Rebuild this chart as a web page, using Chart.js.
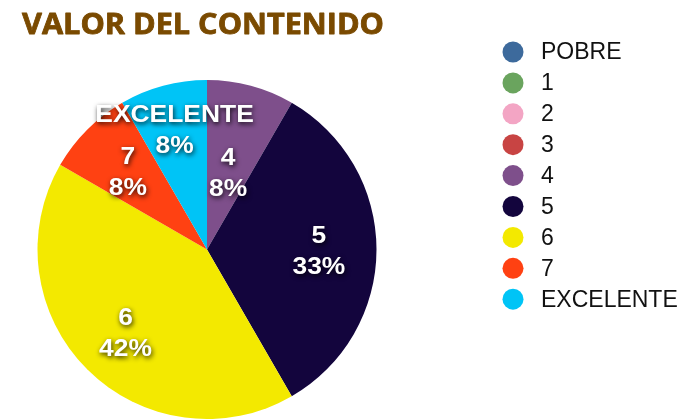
<!DOCTYPE html>
<html>
<head>
<meta charset="utf-8">
<script src="https://cdn.jsdelivr.net/npm/chart.js@4.4.1/dist/chart.umd.min.js"></script>
<style>
  html, body { margin: 0; padding: 0; background: #ffffff; overflow: hidden; }
  #wrap { position: relative; width: 692px; height: 419px; }
  canvas { display: block; }
</style>
</head>
<body>
<div id="wrap"><canvas id="c" width="692" height="419"></canvas></div>
<script>
// ---- data ----
const chartTitle = "VALOR DEL CONTENIDO";
const categories = ["POBRE", "1", "2", "3", "4", "5", "6", "7", "EXCELENTE"];
const counts = [0, 0, 0, 0, 1, 4, 5, 1, 1];
const sliceColors = ["#3D6A9C", "#6AA45E", "#F3A5C4", "#C84443", "#7E4F8B", "#13053D", "#F3E900", "#FF4112", "#00C4F6"];

// label radial placement factors (fraction of radius) per slice
const labelRadius = [0.6, 0.6, 0.6, 0.6, 0.48, 0.66, 0.68, 0.66, 0.74];

const titlePlugin = {
  id: 'titlePlugin',
  afterDraw(chart) {
    const ctx = chart.ctx;
    ctx.save();
    ctx.font = 'bold 28px "Open Sans"';
    ctx.fillStyle = '#7A4A00';
    ctx.strokeStyle = '#7A4A00';
    ctx.lineWidth = 0.8;
    ctx.lineJoin = 'round';
    ctx.textBaseline = 'alphabetic';
    ctx.textAlign = 'left';
    const w = ctx.measureText(chartTitle).width;
    const target = 362;
    ctx.translate(22, 34);
    ctx.scale(target / w, 1);
    ctx.fillText(chartTitle, 0, 0);
    ctx.strokeText(chartTitle, 0, 0);
    ctx.restore();
  }
};

const legendPlugin = {
  id: 'legendPlugin',
  afterDraw(chart) {
    const ctx = chart.ctx;
    ctx.save();
    const labels = chart.data.labels;
    const colors = chart.data.datasets[0].backgroundColor;
    ctx.font = '23px "Liberation Sans", Arial, sans-serif';
    ctx.textBaseline = 'middle';
    ctx.textAlign = 'left';
    for (let i = 0; i < labels.length; i++) {
      const y = 52 + i * 30.9;
      ctx.beginPath();
      ctx.arc(513, y, 10.5, 0, Math.PI * 2);
      ctx.fillStyle = colors[i];
      ctx.fill();
      ctx.fillStyle = '#111111';
      ctx.fillText(labels[i], 541, y + 1);
    }
    ctx.restore();
  }
};

const sliceLabelPlugin = {
  id: 'sliceLabelPlugin',
  afterDatasetsDraw(chart) {
    const ctx = chart.ctx;
    const meta = chart.getDatasetMeta(0);
    const data = chart.data.datasets[0].data;
    const total = data.reduce((a, b) => a + b, 0);
    ctx.save();
    ctx.font = 'bold 24px "Liberation Sans", Arial, sans-serif';
    ctx.textAlign = 'center';
    ctx.textBaseline = 'middle';
    ctx.fillStyle = '#ffffff';
    ctx.shadowColor = 'rgba(0,0,0,0.85)';
    ctx.shadowBlur = 5;
    ctx.shadowOffsetX = 1;
    ctx.shadowOffsetY = 2;
    meta.data.forEach((arc, i) => {
      if (!data[i]) return;
      const p = arc.getProps(['x', 'y', 'startAngle', 'endAngle', 'outerRadius'], true);
      const mid = (p.startAngle + p.endAngle) / 2;
      const r = p.outerRadius * labelRadius[i];
      const cx = p.x + Math.cos(mid) * r;
      const cy = p.y + Math.sin(mid) * r;
      const pct = Math.round(data[i] / total * 100) + '%';
      ctx.save();
      ctx.translate(cx, 0);
      ctx.scale(1.1, 1);
      ctx.fillText(chart.data.labels[i], 0, cy - 13);
      ctx.fillText(pct, 0, cy + 18);
      ctx.restore();
    });
    ctx.restore();
  }
};

new Chart(document.getElementById('c'), {
  type: 'pie',
  data: {
    labels: categories,
    datasets: [{
      data: counts,
      backgroundColor: sliceColors,
      borderWidth: 0
    }]
  },
  options: {
    responsive: false,
    animation: false,
    layout: { padding: { top: 80, left: 37, right: 315, bottom: 0 } },
    plugins: {
      legend: { display: false },
      title: { display: false },
      tooltip: { enabled: false }
    }
  },
  plugins: [sliceLabelPlugin, titlePlugin, legendPlugin]
});
</script>
</body>
</html>
